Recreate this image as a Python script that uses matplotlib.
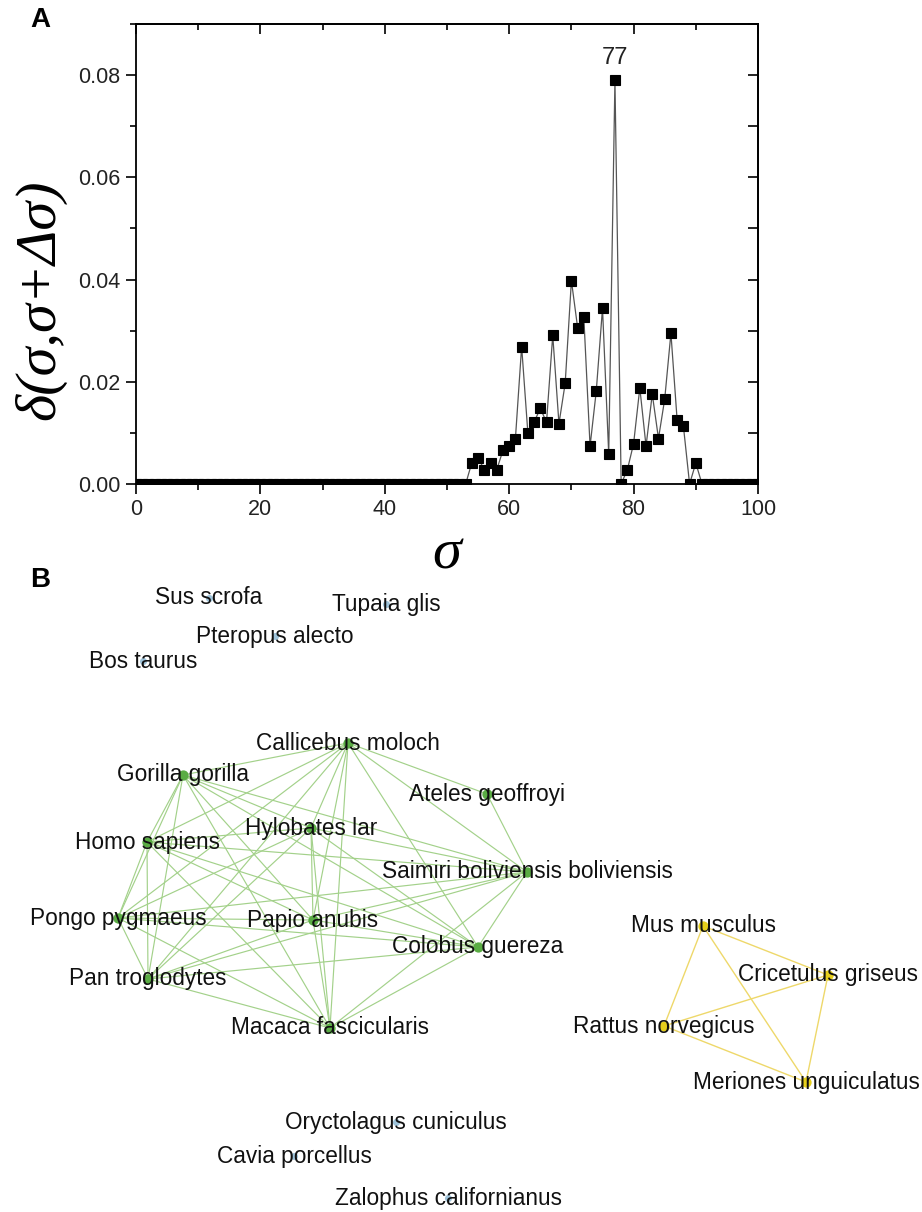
import matplotlib
matplotlib.use("Agg")
import matplotlib.pyplot as plt
import numpy as np
from matplotlib.ticker import MultipleLocator

# ---------------- Panel A data ----------------
sigma = list(range(0, 101))
peak_sigma = list(range(54, 91))
peak_delta = [0.0042, 0.0051, 0.0028, 0.0041, 0.0028, 0.0066, 0.0074, 0.0089,
              0.0269, 0.0100, 0.0121, 0.0148, 0.0121, 0.0291, 0.0118, 0.0197,
              0.0398, 0.0306, 0.0326, 0.0074, 0.0182, 0.0344, 0.0059, 0.0790,
              0.0000, 0.0028, 0.0079, 0.0188, 0.0074, 0.0176, 0.0089, 0.0166,
              0.0295, 0.0125, 0.0114, 0.0000, 0.0041]
delta = [0.0] * len(sigma)
for s, d in zip(peak_sigma, peak_delta):
    delta[s] = d
peak_label = "77"
x_ticks = [0, 20, 40, 60, 80, 100]
y_ticks = [0.00, 0.02, 0.04, 0.06, 0.08]

# ---------------- Panel B data (layout in pixel units) ----------------
green_names = ["Callicebus moloch", "Gorilla gorilla", "Ateles geoffroyi", "Hylobates lar",
               "Homo sapiens", "Saimiri boliviensis boliviensis", "Pongo pygmaeus",
               "Papio anubis", "Colobus guereza", "Pan troglodytes", "Macaca fascicularis"]
green_x = [348, 183, 487, 311, 147, 527, 118, 313, 478, 148, 330]
green_y = [743, 775, 794, 828, 842, 872, 918, 920, 947, 979, 1028]

yellow_names = ["Mus musculus", "Cricetulus griseus", "Rattus norvegicus", "Meriones unguiculatus"]
yellow_x = [703, 828, 664, 806]
yellow_y = [926, 975, 1026, 1082]

iso_names = ["Sus scrofa", "Tupaia glis", "Pteropus alecto", "Bos taurus",
             "Oryctolagus cuniculus", "Cavia porcellus", "Zalophus californianus"]
iso_x = [209, 386, 275, 143, 396, 294, 448]
iso_y = [598, 604, 636, 661, 1122, 1156, 1198]

# edges: Ateles only linked to Callicebus & Saimiri; the others fully linked
green_core = [0, 1, 3, 4, 5, 6, 7, 8, 9, 10]
green_edges = [(a, b) for i, a in enumerate(green_core) for b in green_core[i + 1:]]
green_edges += [(2, 0), (2, 5)]
yellow_edges = [(0, 1), (0, 2), (0, 3), (1, 2), (1, 3), (2, 3)]

plt.rcParams['font.family'] = ['Liberation Sans', 'DejaVu Sans']

W, H = 922, 1212
fig = plt.figure(figsize=(W / 100, H / 100), dpi=100)

# ---------------- Panel B ----------------
axb = fig.add_axes([0, 0, 1, 1], zorder=0)
axb.set_xlim(0, W)
axb.set_ylim(H, 0)
axb.axis("off")
axb.patch.set_alpha(0)

gcol_edge = "#a3d18a"
gcol_node = "#5aac44"
ycol_edge = "#eed86a"
ycol_node = "#e6cf1c"
icol_node = "#9ec3da"

for a, b in green_edges:
    axb.plot([green_x[a], green_x[b]], [green_y[a], green_y[b]], color=gcol_edge, lw=0.85, zorder=1)
for a, b in yellow_edges:
    axb.plot([yellow_x[a], yellow_x[b]], [yellow_y[a], yellow_y[b]], color=ycol_edge, lw=1.0, zorder=1)
axb.scatter(green_x, green_y, s=55, color=gcol_node, zorder=2, linewidths=0)
axb.scatter(yellow_x, yellow_y, s=55, color=ycol_node, zorder=2, linewidths=0)
axb.scatter(iso_x, iso_y, s=26, color=icol_node, zorder=2, linewidths=0)

for names, xs, ys in [(green_names, green_x, green_y), (yellow_names, yellow_x, yellow_y),
                      (iso_names, iso_x, iso_y)]:
    for n, x, y in zip(names, xs, ys):
        axb.text(x, y, n, ha="center", va="center", fontsize=16.3, color="#111111", zorder=3)

# ---------------- Panel A ----------------
l, r, t, b = 136, 758, 24, 484
ax = fig.add_axes([l / W, 1 - b / H, (r - l) / W, (b - t) / H], zorder=2)
ax.plot(sigma, delta, color="#555555", lw=0.9, zorder=2)
ax.plot(sigma, delta, ls="none", marker="s", ms=7.6, color="black", mew=0.8, zorder=4)
ax.set_xlim(0, 100)
ax.set_ylim(0, 0.09)
ax.set_xticks(x_ticks)
ax.set_yticks(y_ticks)
ax.set_yticklabels([f"{v:.2f}" for v in y_ticks])
ax.xaxis.set_minor_locator(MultipleLocator(10))
ax.yaxis.set_minor_locator(MultipleLocator(0.01))
ax.tick_params(which="major", direction="out", length=7, width=1.2, labelsize=15.5,
               labelcolor="#222222", pad=4)
ax.tick_params(which="minor", direction="out", length=4, width=1.2)
for sp in ax.spines.values():
    sp.set_linewidth(1.3)

top = ax.secondary_xaxis("top")
top.set_xticks(x_ticks)
top.xaxis.set_minor_locator(MultipleLocator(10))
top.tick_params(which="major", direction="in", length=7, width=1.2, labeltop=False)
top.tick_params(which="minor", direction="in", length=4, width=1.2)
top.spines["top"].set_linewidth(1.3)
right = ax.secondary_yaxis("right")
right.set_yticks(y_ticks)
right.yaxis.set_minor_locator(MultipleLocator(0.01))
right.tick_params(which="both", direction="in", length=7, width=1.2, labelright=False)
right.spines["right"].set_linewidth(1.3)

ax.annotate(peak_label, xy=(77, 0.0790), xytext=(0, 8), textcoords="offset points",
            ha="center", va="bottom", fontsize=17, color="#222222")

ax.set_xlabel(r"σ", fontsize=42, family="Liberation Serif", style="italic", labelpad=6)
fig.text(40 / W, 1 - 300 / H, "δ(σ,σ+Δσ)", rotation=90, ha="center", va="center",
         fontsize=42, family="Liberation Serif", style="italic")

fig.text(40 / W, 1 - 20 / H, "A", ha="center", va="center", fontsize=20, fontweight="bold")
fig.text(40 / W, 1 - 580 / H, "B", ha="center", va="center", fontsize=20, fontweight="bold")

fig.savefig("out.png", dpi=100)
